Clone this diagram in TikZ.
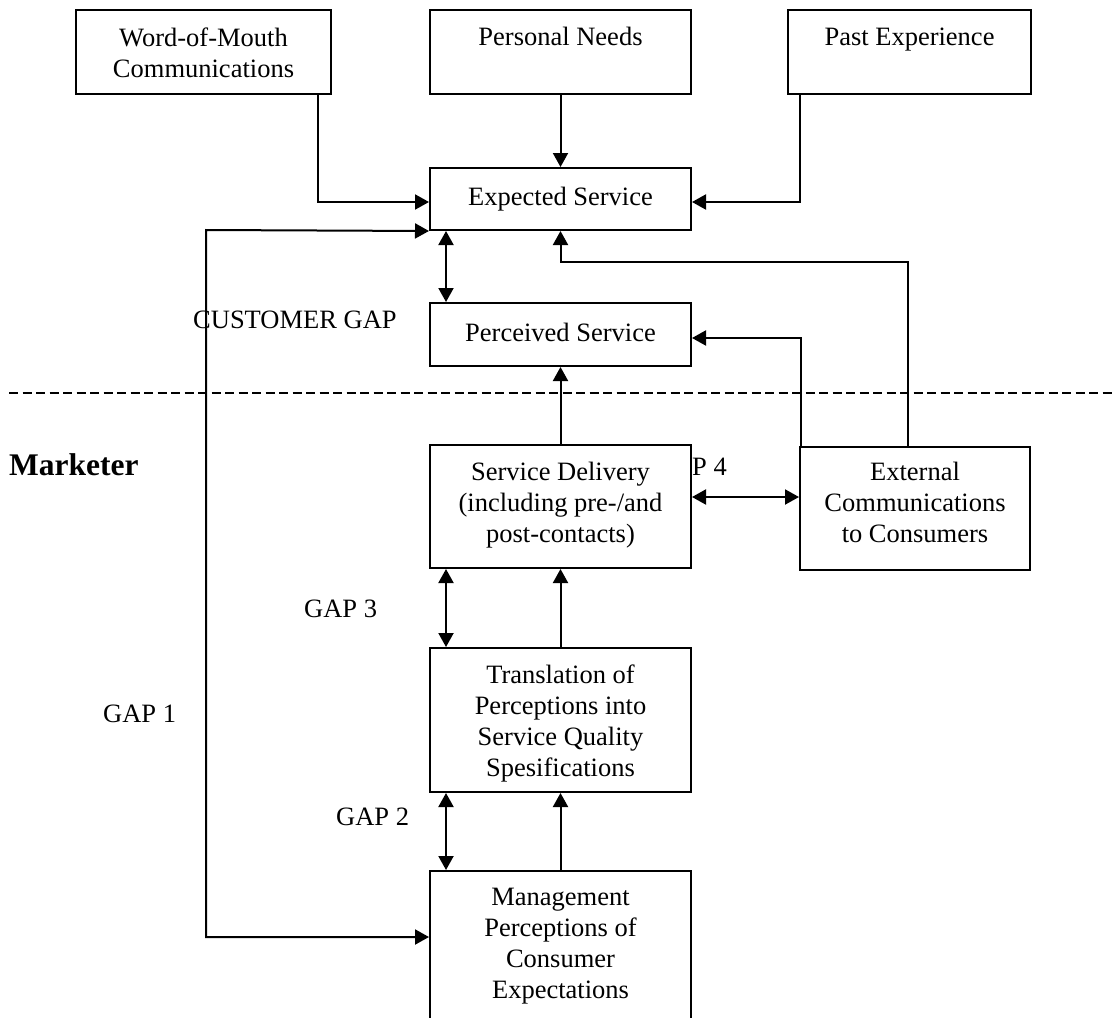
\documentclass[tikz,border=0pt]{standalone}
\usepackage{fontspec}
\setmainfont{Liberation Serif}
\usetikzlibrary{arrows.meta}
\begin{document}
\begin{tikzpicture}[x=1pt,y=-1pt,
  box/.style={draw,line width=2pt,fill=white,inner sep=0pt},
  txt/.style={font=\fontsize{26.5}{31}\selectfont,align=center,inner sep=0pt,anchor=base},
  conn/.style={line width=2pt},
  arr/.style={conn,-{Triangle[length=14pt,width=15pt]}},
  darr/.style={conn,{Triangle[length=14pt,width=15pt]}-{Triangle[length=14pt,width=15pt]}}]
\useasboundingbox (0,0) rectangle (1116,1017);
\clip (0,0) rectangle (1116,1017);
% dividing line
\coordinate (dl) at (9,393);
\coordinate (dr) at (1116,393);
\draw[line width=2pt,dash pattern=on 9pt off 4.5pt] (dl) -- (dr);
% GAP 4 label (partly hidden behind the service delivery box)
\node[txt,anchor=base east] (gap4) at (727,475) {GAP 4};
% boxes
\node[box,minimum width=255pt,minimum height=84pt] (wom) at (203.5,52) {};
\node[box,minimum width=261pt,minimum height=84pt] (pn) at (560.5,52) {};
\node[box,minimum width=243pt,minimum height=84pt] (pe) at (909.5,52) {};
\node[box,minimum width=261pt,minimum height=62pt] (es) at (560.5,199) {};
\node[box,minimum width=261pt,minimum height=63pt] (ps) at (560.5,334.5) {};
\node[box,minimum width=261pt,minimum height=123pt] (sd) at (560.5,506.5) {};
\node[box,minimum width=230pt,minimum height=123pt] (ec) at (915,508.5) {};
\node[box,minimum width=261pt,minimum height=144pt] (tr) at (560.5,720) {};
\node[box,minimum width=261pt,minimum height=169pt] (mg) at (560.5,955.5) {};
% box texts (anchor base = baseline of the last line)
\node[txt] (wom-t) at (203.5,77) {Word-of-Mouth\\Communications};
\node[txt] (pn-t) at (560.5,45.5) {Personal Needs};
\node[txt] (pe-t) at (909.5,45.5) {Past Experience};
\node[txt] (es-t) at (560.5,205) {Expected Service};
\node[txt] (ps-t) at (560.5,341) {Perceived Service};
\node[txt] (sd-t) at (560.5,542) {Service Delivery\\(including pre-/and\\post-contacts)};
\node[txt] (ec-t) at (915,542) {External\\Communications\\to Consumers};
\node[txt] (tr-t) at (560.5,776) {Translation of\\Perceptions into\\Service Quality\\Spesifications};
\node[txt] (mg-t) at (560.5,998) {Management\\Perceptions of\\Consumer\\Expectations};
% other labels
\node[txt,anchor=base west] (cgap) at (193,328) {CUSTOMER GAP};
\node[txt,anchor=base west] (gap3) at (304,617) {GAP 3};
\node[txt,anchor=base west] (gap2) at (336,825) {GAP 2};
\node[txt,anchor=base west] (gap1) at (103,722) {GAP 1};
\node[txt,anchor=base west,font=\fontsize{31.5}{36}\selectfont\bfseries] (mkt) at (9,475) {Marketer};
% turning points
\coordinate (womx) at (318,202);
\coordinate (pex) at (800,202);
\coordinate (g1a) at (206,230);
\coordinate (g1b) at (206,937);
\coordinate (gapx) at (446,0);
\coordinate (ecr) at (908,262);
\coordinate (ecl) at (801,338);
\coordinate (g4y) at (0,497);
% connectors
\draw[arr] (wom.south -| womx) -- (womx) -- (es.west |- womx);
\draw[arr] (pn.south) -- (es.north);
\draw[arr] (pe.south -| pex) -- (pex) -- (es.east |- pex);
\draw[darr] (es.south west) -- (g1a) -- (g1b) -- (mg.west |- g1b);
\draw[darr] (es.south -| gapx) -- (ps.north -| gapx);
\draw[arr] (ec.north -| ecr) -- (ecr) -- (ecr -| es.south) -- (es.south);
\draw[arr] (ec.north -| ecl) -- (ecl) -- (ps.east |- ecl);
\draw[arr] (sd.north) -- (ps.south);
\draw[darr] (sd.east |- g4y) -- (ec.west |- g4y);
\draw[darr] (sd.south -| gapx) -- (tr.north -| gapx);
\draw[arr] (tr.north) -- (sd.south);
\draw[darr] (tr.south -| gapx) -- (mg.north -| gapx);
\draw[arr] (mg.north) -- (tr.south);
\end{tikzpicture}
\end{document}
